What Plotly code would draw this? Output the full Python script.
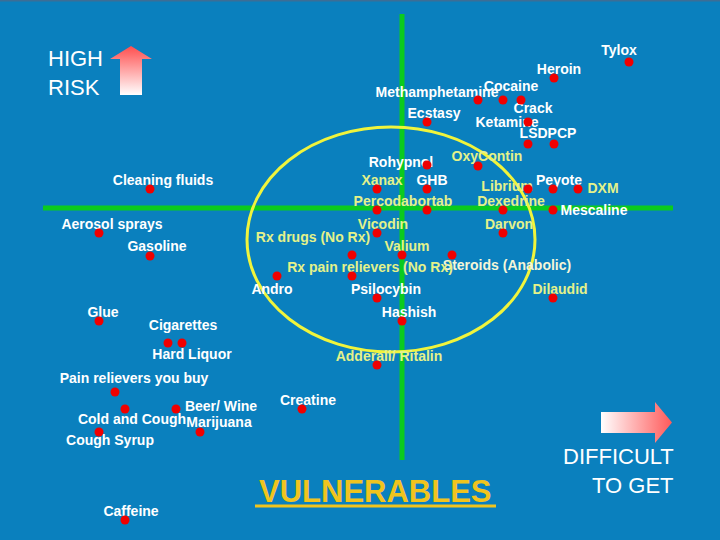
import plotly.graph_objects as go

# ---- data: dots (x = difficulty to get, y = risk position, screen-like units) ----
dot_names = ["Tylox", "Heroin", "Methamphetamine", "Cocaine", "Crack", "Ecstasy", "Ketamine",
             "LSD", "PCP", "Rohypnol", "OxyContin", "Xanax", "GHB", "Librium", "Peyote", "DXM",
             "Percodan", "Lortab", "Dexedrine", "Mescaline", "Vicodin", "Darvon", "Rx drugs (No Rx)",
             "Valium", "Steroids (Anabolic)", "Rx pain relievers (No Rx)", "Andro", "Psilocybin",
             "Dilaudid", "Hashish", "Adderall/ Ritalin", "Cleaning fluids", "Aerosol sprays",
             "Gasoline", "Glue", "Cigarettes", "Hard Liquor", "Pain relievers you buy",
             "Cold and Cough", "Beer/ Wine", "Marijuana", "Cough Syrup", "Creatine", "Caffeine"]
dot_x = [629, 554, 478, 503, 521, 427, 528, 528, 554, 427, 478, 377, 427, 528, 553, 578,
         377, 427, 503, 553, 377, 503, 352, 402, 452, 352, 277, 377, 553, 402, 377, 150, 99,
         150, 99, 168, 182, 115, 125, 176, 200, 99, 302, 125]
dot_y = [62, 78, 100, 100, 100, 122, 122, 144, 144, 165, 166, 189, 189, 189, 189, 189,
         210, 210, 210, 210, 233, 233, 255, 255, 255, 276, 276, 298, 298, 321, 365, 189, 233,
         256, 321, 343, 343, 392, 409, 409, 432, 432, 409, 520]

# ---- data: labels ----
label_text = ["Tylox", "Heroin", "Methamphetamine", "Cocaine", "Crack", "Ecstasy", "Ketamine",
              "LSDPCP", "Rohypnol", "OxyContin", "Xanax", "GHB", "Librium", "Peyote", "DXM",
              "Percodabortab", "Dexedrine", "Mescaline", "Vicodin", "Darvon", "Rx drugs (No Rx)",
              "Valium", "Steroids (Anabolic)", "Rx pain relievers (No Rx)", "Andro", "Psilocybin",
              "Dilaudid", "Hashish", "Adderall/ Ritalin", "Cleaning fluids", "Aerosol sprays",
              "Gasoline", "Glue", "Cigarettes", "Hard Liquor", "Pain relievers you buy",
              "Cold and Cough", "Beer/ Wine", "Marijuana", "Cough Syrup", "Caffeine", "Creatine"]
label_x = [619, 559, 437, 511, 533, 434, 507, 548, 401, 487, 382, 432, 507, 559, 603,
           403, 511, 594, 383, 509, 313, 407, 507, 370, 272, 386, 560, 409, 389, 163, 112,
           157, 103, 183, 192, 134, 132, 221, 219, 110, 131, 308]
label_y = [51, 70, 93, 87, 109, 114, 123, 134, 163, 157, 181, 181, 187, 181, 189,
           202, 202, 211, 225, 225, 238, 247, 266, 268, 290, 290, 290, 313, 357, 181, 225,
           247, 313, 326, 355, 379, 420, 407, 423, 441, 512, 401]
label_kind = ["w", "w", "w", "w", "w", "w", "w", "w", "w", "y", "y", "w", "y", "w", "y",
              "y", "y", "w", "y", "y", "y", "y", "c", "y", "w", "w", "y", "w", "y", "w", "w",
              "w", "w", "w", "w", "w", "w", "w", "w", "w", "w", "w"]

BG = "#0A80BE"
WHITE = "#FFFFFF"
YEL = "#E4F28A"
CREAM = "#F4F6D8"
kind_color = {"w": WHITE, "y": YEL, "c": CREAM}

fig = go.Figure()

# gradient arrows
fig.add_trace(go.Scatter(
    x=[131, 152, 142, 142, 120, 120, 110, 131],
    y=[46, 59, 59, 95, 95, 59, 59, 46],
    mode="lines", line=dict(width=0), fill="toself",
    fillgradient=dict(type="vertical", colorscale=[[0, "#FF4E4E"], [1, "#FFFFFF"]],
                      start=46, stop=95),
    hoverinfo="skip"))
fig.add_trace(go.Scatter(
    x=[601, 655, 655, 672, 655, 655, 601, 601],
    y=[412, 412, 402, 422.5, 443, 433, 433, 412],
    mode="lines", line=dict(width=0), fill="toself",
    fillgradient=dict(type="horizontal", colorscale=[[0, "#FFFFFF"], [1, "#FF5A5A"]],
                      start=601, stop=672),
    hoverinfo="skip"))

# labels
fig.add_trace(go.Scatter(
    x=label_x, y=label_y, mode="text", text=label_text, textposition="middle center",
    textfont=dict(family="Liberation Sans, Arial", size=14, weight="bold",
                  color=[kind_color[k] for k in label_kind]),
    hoverinfo="skip"))

# dots
fig.add_trace(go.Scatter(
    x=dot_x, y=dot_y, mode="markers", text=dot_names,
    marker=dict(size=9, color="#F00000", line=dict(width=0))))

shapes = [
    dict(type="rect", xref="x", yref="y", x0=0, x1=720, y0=0, y1=1.5,
         fillcolor="#3C6E96", line=dict(width=0), layer="below"),
    dict(type="line", xref="x", yref="y", x0=402, x1=402, y0=14, y1=460,
         line=dict(color="#0BCB1E", width=5), layer="below"),
    dict(type="line", xref="x", yref="y", x0=43, x1=673, y0=208, y1=208,
         line=dict(color="#0BCB1E", width=5), layer="below"),
    dict(type="circle", xref="x", yref="y", x0=247, x1=535, y0=127, y1=352,
         line=dict(color="#F0F43C", width=3), layer="below"),
    dict(type="line", xref="x", yref="y", x0=255, x1=496, y0=506, y1=506,
         line=dict(color="#F0C41E", width=3)),
]

annotations = [
    dict(x=46, y=58, xref="x", yref="y", text="HIGH", showarrow=False, xanchor="left",
         yanchor="middle", font=dict(family="Liberation Sans, Arial", size=22, color=WHITE)),
    dict(x=46, y=87, xref="x", yref="y", text="RISK", showarrow=False, xanchor="left",
         yanchor="middle", font=dict(family="Liberation Sans, Arial", size=22, color=WHITE)),
    dict(x=676, y=456, xref="x", yref="y", text="DIFFICULT", showarrow=False, xanchor="right",
         yanchor="middle", font=dict(family="Liberation Sans, Arial", size=22, color=WHITE)),
    dict(x=676, y=485, xref="x", yref="y", text="TO GET", showarrow=False, xanchor="right",
         yanchor="middle", font=dict(family="Liberation Sans, Arial", size=22, color=WHITE)),
    dict(x=375, y=491, xref="x", yref="y", text="<b>VULNERABLES</b>", showarrow=False,
         xanchor="center", yanchor="middle",
         font=dict(family="Liberation Sans, Arial", size=31, color="#F0C41E")),
]

fig.update_layout(
    width=720, height=540, margin=dict(l=0, r=0, t=0, b=0),
    paper_bgcolor=BG, plot_bgcolor=BG, showlegend=False,
    xaxis=dict(range=[0, 720], visible=False, fixedrange=True),
    yaxis=dict(range=[540, 0], visible=False, fixedrange=True),
    shapes=shapes, annotations=annotations,
)

fig.write_html("out.html", config={"displayModeBar": False})

# remove the default page margin so the 720x540 figure fills the window exactly
with open("out.html", "r", encoding="utf-8") as f:
    html = f.read()
html = html.replace("<head>", "<head><style>html,body{margin:0;padding:0;overflow:hidden;}</style>", 1)
with open("out.html", "w", encoding="utf-8") as f:
    f.write(html)
